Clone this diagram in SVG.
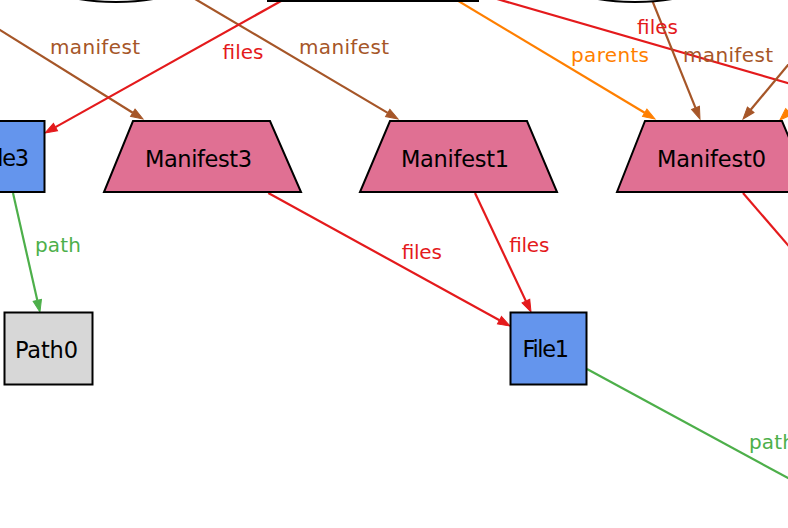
<svg xmlns="http://www.w3.org/2000/svg" width="788" height="528" viewBox="0 0 788 528">
<style>
.node{stroke:#000;stroke-width:2}
.man{fill:#e07093}
.file{fill:#6495ed}
.path0{fill:#d7d7d7}
.top{fill:#fff}
.nt{font-family:"DejaVu Sans","Noto Sans",sans-serif;font-size:22.5px;fill:#000}
.lt{font-family:"DejaVu Sans","Noto Sans",sans-serif;font-size:20px}
.e{fill:none;stroke-width:2.2}
.red{stroke:#e41a1c}
.grn{stroke:#4daf4a}
.org{stroke:#ff7f00}
.brn{stroke:#a65628}
.tred{fill:#e41a1c}
.tgrn{fill:#4daf4a}
.torg{fill:#ff7f00}
.tbrn{fill:#a65628}
</style>
<defs>
<marker id="ar" markerUnits="userSpaceOnUse" markerWidth="12" markerHeight="9" refX="0" refY="4.25" orient="auto" overflow="visible"><path d="M0,0 L12,4.25 L0,8.5 z" fill="#e41a1c" stroke="#e41a1c" stroke-width="1"/></marker>
<marker id="ag" markerUnits="userSpaceOnUse" markerWidth="12" markerHeight="9" refX="0" refY="4.25" orient="auto" overflow="visible"><path d="M0,0 L12,4.25 L0,8.5 z" fill="#4daf4a" stroke="#4daf4a" stroke-width="1"/></marker>
<marker id="ao" markerUnits="userSpaceOnUse" markerWidth="12" markerHeight="9" refX="0" refY="4.25" orient="auto" overflow="visible"><path d="M0,0 L12,4.25 L0,8.5 z" fill="#ff7f00" stroke="#ff7f00" stroke-width="1"/></marker>
<marker id="ab" markerUnits="userSpaceOnUse" markerWidth="12" markerHeight="9" refX="0" refY="4.25" orient="auto" overflow="visible"><path d="M0,0 L12,4.25 L0,8.5 z" fill="#a65628" stroke="#a65628" stroke-width="1"/></marker>
</defs>
<rect width="788" height="528" fill="#fff"/>
<g id="connectors">
<path class="e brn" d="M-10,23.8 L132.8,112.7" marker-end="url(#ab)"/>
<path class="e brn" d="M190,-4 L387.7,112.9" marker-end="url(#ab)"/>
<path class="e red" d="M290,-4 L55.5,127.1" marker-end="url(#ar)"/>
<path class="e org" d="M450,-4 L644.7,112.8" marker-end="url(#ao)"/>
<path class="e red" d="M497,-1 L800,86.5"/>
<path class="e brn" d="M650,-5 L695.5,107.9" marker-end="url(#ab)"/>
<path class="e brn" d="M800,50.6 L750.7,109.8" marker-end="url(#ab)"/>
<path class="e org" d="M805,96 L788.6,111.7" marker-end="url(#ao)"/>
<path class="e red" d="M743,193 L800,259"/>
<path class="e red" d="M268.3,193 L499.5,320.2" marker-end="url(#ar)"/>
<path class="e red" d="M475,193 L525.9,301.1" marker-end="url(#ar)"/>
<path class="e grn" d="M13,193 L37.3,300.3" marker-end="url(#ag)"/>
<path class="e grn" d="M587,369 L800,484.5"/>
<text class="lt tbrn" x="50" y="54" textLength="90">manifest</text>
<text class="lt tred" x="222.5" y="59" textLength="41">files</text>
<text class="lt tbrn" x="299" y="54" textLength="90">manifest</text>
<text class="lt torg" x="571" y="61.5" textLength="78">parents</text>
<text class="lt tred" x="637" y="34" textLength="41">files</text>
<text class="lt tbrn" x="683" y="61.5" textLength="90">manifest</text>
<text class="lt tred" x="401.5" y="259" textLength="40">files</text>
<text class="lt tred" x="509" y="251.5" textLength="40">files</text>
<text class="lt tgrn" x="35" y="251.5" textLength="46">path</text>
<text class="lt tgrn" x="749" y="449" textLength="46">path</text>
</g>
<g id="TopNodeA"><ellipse class="node top" cx="116" cy="-25" rx="80" ry="27"/></g>
<g id="TopNodeB"><rect class="node top" x="268" y="-50" width="210" height="51"/></g>
<g id="TopNodeC"><ellipse class="node top" cx="635" cy="-25" rx="80" ry="27"/></g>
<g id="File3"><rect class="node file" x="-32" y="121" width="76.5" height="71"/><text class="nt" x="-17.5" y="166" textLength="46.5">File3</text></g>
<g id="Manifest3"><polygon class="node man" points="133,121 270,121 301,192 104,192"/><text class="nt" x="145" y="166.5" textLength="107">Manifest3</text></g>
<g id="Manifest1"><polygon class="node man" points="390,121 527,121 557,192 360,192"/><text class="nt" x="401" y="166.5" textLength="108">Manifest1</text></g>
<g id="Manifest0"><polygon class="node man" points="645,121 782,121 812,192 617,192"/><text class="nt" x="657" y="166.5" textLength="109">Manifest0</text></g>
<g id="Path0"><rect class="node path0" x="4.5" y="312.5" width="88" height="72"/><text class="nt" x="15" y="358" textLength="63">Path0</text></g>
<g id="File1"><rect class="node file" x="510.5" y="312.5" width="76" height="72"/><text class="nt" x="522.5" y="357" textLength="46.5">File1</text></g>
</svg>
